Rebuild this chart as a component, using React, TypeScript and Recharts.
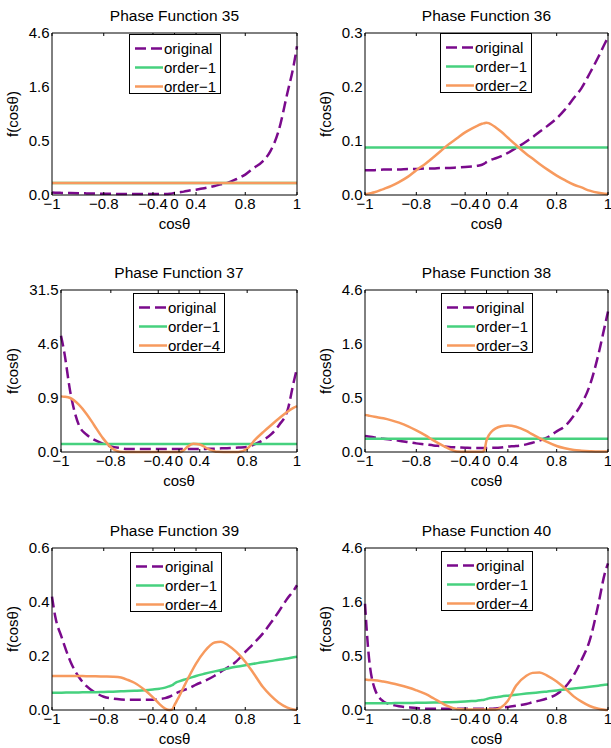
import React from 'react';
import { LineChart, Line, XAxis, YAxis, Legend } from 'recharts';

// cosθ sample points shared by all six panels
const cosGrid = [
  -1, -0.99, -0.97, -0.94, -0.91, -0.88, -0.84, -0.8, -0.75, -0.7, -0.65, -0.6, -0.5,
  -0.4, -0.3, -0.2, -0.1, -0.05, 0, 0.05, 0.1, 0.2, 0.3, 0.4, 0.5, 0.6, 0.65, 0.7,
  0.75, 0.8, 0.84, 0.88, 0.91, 0.94, 0.97, 0.99, 1,
];

const xTickValues = [-1, -0.8, -0.4, 0, 0.4, 0.8, 1];
const yTicksLog = [0, 0.5, 1.6, 4.6];
const yTicks36 = [0, 0.1, 0.2, 0.3];
const yTicks37 = [0, 0.9, 4.6, 31.5];
const yTicks39 = [0, 0.2, 0.4, 0.6];

const titles = [
  'Phase Function 35', 'Phase Function 36', 'Phase Function 37',
  'Phase Function 38', 'Phase Function 39', 'Phase Function 40',
];
const legendNames = [
  ['original', 'order\u22121', 'order\u22121'],
  ['original', 'order\u22121', 'order\u22122'],
  ['original', 'order\u22121', 'order\u22124'],
  ['original', 'order\u22121', 'order\u22123'],
  ['original', 'order\u22121', 'order\u22124'],
  ['original', 'order\u22121', 'order\u22124'],
];

// ---- panel 35
const orig35 = [0.015, 0.014, 0.013, 0.012, 0.011, 0.01, 0.009, 0.008, 0.007, 0.006, 0.006, 0.006, 0.006, 0.006, 0.006, 0.006, 0.008, 0.01, 0.013, 0.015, 0.017, 0.021, 0.028, 0.034, 0.043, 0.059, 0.071, 0.083, 0.108, 0.145, 0.2, 0.265, 0.372, 0.64, 1.43, 2.5, 3.6];
const order1_35 = [0.08, 0.08, 0.08, 0.08, 0.08, 0.08, 0.08, 0.08, 0.08, 0.08, 0.08, 0.08, 0.08, 0.08, 0.08, 0.08, 0.08, 0.08, 0.08, 0.08, 0.08, 0.08, 0.08, 0.08, 0.08, 0.08, 0.08, 0.08, 0.08, 0.08, 0.08, 0.08, 0.08, 0.08, 0.08, 0.08, 0.08];
const orderN_35 = [0.08, 0.08, 0.08, 0.08, 0.08, 0.08, 0.08, 0.08, 0.08, 0.08, 0.08, 0.08, 0.08, 0.08, 0.08, 0.08, 0.08, 0.08, 0.08, 0.08, 0.08, 0.08, 0.08, 0.08, 0.08, 0.08, 0.08, 0.08, 0.08, 0.08, 0.08, 0.08, 0.08, 0.08, 0.08, 0.08, 0.08];

// ---- panel 36
const orig36 = [0.046, 0.046, 0.046, 0.047, 0.047, 0.047, 0.048, 0.048, 0.049, 0.049, 0.05, 0.05, 0.051, 0.052, 0.053, 0.054, 0.056, 0.058, 0.061, 0.063, 0.065, 0.068, 0.072, 0.078, 0.087, 0.099, 0.107, 0.117, 0.128, 0.142, 0.158, 0.18, 0.198, 0.225, 0.256, 0.28, 0.292];
const order1_36 = [0.088, 0.088, 0.088, 0.088, 0.088, 0.088, 0.088, 0.088, 0.088, 0.088, 0.088, 0.088, 0.088, 0.088, 0.088, 0.088, 0.088, 0.088, 0.088, 0.088, 0.088, 0.088, 0.088, 0.088, 0.088, 0.088, 0.088, 0.088, 0.088, 0.088, 0.088, 0.088, 0.088, 0.088, 0.088, 0.088, 0.088];
const orderN_36 = [0.001, 0.0025, 0.005, 0.011, 0.017, 0.024, 0.034, 0.046, 0.058, 0.07, 0.081, 0.091, 0.105, 0.116, 0.123, 0.128, 0.132, 0.133, 0.134, 0.133, 0.131, 0.125, 0.117, 0.106, 0.0925, 0.076, 0.0675, 0.0575, 0.047, 0.036, 0.0275, 0.019, 0.014, 0.008, 0.004, 0.0025, 0.002];

// ---- panel 37
const orig37 = [6.2, 3.7, 1.1, 0.27, 0.145, 0.095, 0.06, 0.039, 0.027, 0.02, 0.02, 0.02, 0.02, 0.02, 0.02, 0.02, 0.02, 0.02, 0.02, 0.02, 0.02, 0.02, 0.02, 0.02, 0.021, 0.023, 0.025, 0.027, 0.03, 0.034, 0.057, 0.095, 0.152, 0.27, 0.56, 1.53, 2.28];
const order1_37 = [0.057, 0.057, 0.057, 0.057, 0.057, 0.057, 0.057, 0.057, 0.057, 0.057, 0.057, 0.057, 0.057, 0.057, 0.057, 0.057, 0.057, 0.057, 0.057, 0.057, 0.057, 0.057, 0.057, 0.057, 0.057, 0.057, 0.057, 0.057, 0.057, 0.057, 0.057, 0.057, 0.057, 0.057, 0.057, 0.057, 0.057];
const orderN_37 = [0.95, 0.94, 0.9, 0.69, 0.46, 0.27, 0.11, 0.032, 0.002, 0, 0, 0, 0, 0, 0, 0, 0, 0, 0, 0.002, 0.01, 0.039, 0.06, 0.054, 0.022, 0.001, 0, 0, 0, 0.022, 0.095, 0.184, 0.27, 0.38, 0.52, 0.61, 0.65];

// ---- panel 38
const orig38 = [0.11, 0.106, 0.099, 0.089, 0.082, 0.075, 0.065, 0.056, 0.049, 0.042, 0.038, 0.034, 0.029, 0.027, 0.025, 0.025, 0.025, 0.025, 0.025, 0.026, 0.027, 0.027, 0.029, 0.034, 0.038, 0.049, 0.06, 0.077, 0.1, 0.147, 0.19, 0.294, 0.425, 0.68, 1.32, 2.31, 3.07];
const order1_38 = [0.089, 0.089, 0.089, 0.089, 0.089, 0.089, 0.089, 0.089, 0.089, 0.089, 0.089, 0.089, 0.089, 0.089, 0.089, 0.089, 0.089, 0.089, 0.089, 0.089, 0.089, 0.089, 0.089, 0.089, 0.089, 0.089, 0.089, 0.089, 0.089, 0.089, 0.089, 0.089, 0.089, 0.089, 0.089, 0.089, 0.089];
const orderN_38 = [0.3, 0.293, 0.28, 0.265, 0.245, 0.223, 0.19, 0.155, 0.115, 0.077, 0.049, 0.027, 0.003, 0.001, 0.001, 0.001, 0.001, 0.01, 0.077, 0.115, 0.14, 0.172, 0.19, 0.198, 0.186, 0.15, 0.122, 0.094, 0.065, 0.038, 0.023, 0.012, 0.008, 0.005, 0.003, 0.003, 0.003];

// ---- panel 39
const orig39 = [0.42, 0.345, 0.27, 0.179, 0.123, 0.089, 0.064, 0.049, 0.042, 0.039, 0.038, 0.038, 0.038, 0.038, 0.041, 0.044, 0.05, 0.054, 0.059, 0.063, 0.067, 0.074, 0.081, 0.094, 0.107, 0.127, 0.142, 0.158, 0.179, 0.215, 0.246, 0.283, 0.32, 0.363, 0.413, 0.443, 0.462];
const order1_39 = [0.064, 0.064, 0.064, 0.065, 0.065, 0.066, 0.066, 0.067, 0.068, 0.069, 0.07, 0.071, 0.073, 0.076, 0.079, 0.083, 0.089, 0.092, 0.098, 0.103, 0.106, 0.112, 0.118, 0.126, 0.134, 0.143, 0.148, 0.154, 0.16, 0.166, 0.171, 0.177, 0.181, 0.186, 0.191, 0.195, 0.197];
const orderN_39 = [0.126, 0.126, 0.126, 0.126, 0.126, 0.125, 0.125, 0.124, 0.123, 0.12, 0.111, 0.101, 0.074, 0.047, 0.022, 0.005, 0, 0.002, 0.018, 0.034, 0.049, 0.086, 0.127, 0.172, 0.216, 0.25, 0.253, 0.24, 0.216, 0.179, 0.136, 0.086, 0.055, 0.028, 0.009, 0.002, 0];

// ---- panel 40
const orig40 = [1.55, 0.58, 0.156, 0.056, 0.034, 0.023, 0.017, 0.012, 0.008, 0.008, 0.008, 0.008, 0.008, 0.008, 0.008, 0.008, 0.008, 0.008, 0.008, 0.008, 0.008, 0.01, 0.014, 0.019, 0.027, 0.038, 0.05, 0.061, 0.078, 0.108, 0.164, 0.28, 0.448, 0.73, 1.55, 2.84, 3.45];
const order1_40 = [0.043, 0.043, 0.043, 0.044, 0.044, 0.045, 0.045, 0.046, 0.047, 0.048, 0.049, 0.05, 0.052, 0.055, 0.058, 0.061, 0.065, 0.068, 0.072, 0.077, 0.08, 0.085, 0.091, 0.097, 0.104, 0.113, 0.118, 0.123, 0.13, 0.138, 0.145, 0.154, 0.161, 0.169, 0.178, 0.185, 0.188];
const orderN_40 = [0.235, 0.23, 0.228, 0.215, 0.2, 0.184, 0.162, 0.139, 0.11, 0.078, 0.05, 0.027, 0.006, 0.003, 0.003, 0.003, 0.003, 0.003, 0.003, 0.003, 0.003, 0.003, 0.017, 0.061, 0.177, 0.27, 0.3, 0.305, 0.27, 0.215, 0.156, 0.09, 0.054, 0.025, 0.008, 0.002, 0];

const PURPLE = '#7a0a8c';
const GREEN = '#46d17e';
const ORANGE = '#f79a5e';
const FONT = '"Liberation Sans", Arial, Helvetica, sans-serif';

// the horizontal axis is stretched towards ±1
const K = 2.7;
const warpX = (c: number) => Math.sinh(K * c) / Math.sinh(K);

// the vertical axis: ticks evenly spaced, log-like in between (k = 0 means linear)
const warpY = (v: number, ticks: number[], k: number) => {
  const g = (t: number) => (k > 0 ? Math.log(1 + t / k) : t);
  for (let i = 0; i < ticks.length - 1; i++) {
    if (v <= ticks[i + 1] || i === ticks.length - 2) {
      return i + (g(v) - g(ticks[i])) / (g(ticks[i + 1]) - g(ticks[i]));
    }
  }
  return 0;
};

const panels = [
  { title: titles[0], names: legendNames[0], left: 0, top: 0, width: 305, yw: 52, right: 8, ticks: yTicksLog, k: 0.42, orig: orig35, o1: order1_35, on: orderN_35, lg: [77, 1] },
  { title: titles[1], names: legendNames[1], left: 313, top: 0, width: 298, yw: 52, right: 3, ticks: yTicks36, k: 0, orig: orig36, o1: order1_36, on: orderN_36, lg: [75, 0] },
  { title: titles[2], names: legendNames[2], left: 0, top: 257, width: 305, yw: 61, right: 8, ticks: yTicks37, k: 0.2, orig: orig37, o1: order1_37, on: orderN_37, lg: [72, 3] },
  { title: titles[3], names: legendNames[3], left: 313, top: 257, width: 298, yw: 52, right: 3, ticks: yTicksLog, k: 0.42, orig: orig38, o1: order1_38, on: orderN_38, lg: [76, 3] },
  { title: titles[4], names: legendNames[4], left: 0, top: 515, width: 305, yw: 52, right: 8, ticks: yTicks39, k: 0, orig: orig39, o1: order1_39, on: orderN_39, lg: [78, 4] },
  { title: titles[5], names: legendNames[5], left: 313, top: 515, width: 298, yw: 52, right: 3, ticks: yTicksLog, k: 0.42, orig: orig40, o1: order1_40, on: orderN_40, lg: [76, 3] },
];

const YLabel = (props: any) => {
  const vb = props.viewBox || {};
  const cx = (vb.x ?? 0) + 12.5;
  const cy = (vb.y ?? 33) + (vb.height ?? 162) / 2;
  return (
    <text x={cx} y={cy} transform={`rotate(-90 ${cx} ${cy})`} textAnchor="middle" dominantBaseline="central" fontSize={15} fill="#000">
      f(cosθ)
    </text>
  );
};

const makeTitle = (title: string) => (props: any) => {
  const vb = props.viewBox || {};
  const cx = (vb.x ?? 52) + (vb.width ?? 245) / 2;
  const y = (vb.y ?? 33) - 12.4;
  return (
    <text x={cx} y={y} textAnchor="middle" fontSize={15.5} fill="#000">
      {title}
    </text>
  );
};

function LegendBox({ names }: { names: string[] }) {
  const colors = [PURPLE, GREEN, ORANGE];
  return (
    <div style={{ width: 92, height: 60, boxSizing: 'border-box', border: '1px solid #000', background: '#fff', paddingTop: 4, fontFamily: FONT }}>
      {names.map((n, i) => (
        <div key={i} style={{ display: 'flex', alignItems: 'center', height: 19 }}>
          <svg width={34} height={19} style={{ flex: 'none' }}>
            <line x1={5} x2={33} y1={9.5} y2={9.5} stroke={colors[i]} strokeWidth={2.5} strokeDasharray={i === 0 ? '11 5' : undefined} />
          </svg>
          <span style={{ fontSize: 15, lineHeight: '19px', color: '#000', whiteSpace: 'nowrap' }}>{n}</span>
        </div>
      ))}
    </div>
  );
}

function Panel({ p }: { p: (typeof panels)[number] }) {
  const rows = cosGrid.map((c, i) => ({
    x: warpX(c),
    orig: warpY(p.orig[i], p.ticks, p.k),
    o1: warpY(p.o1[i], p.ticks, p.k),
    on: warpY(p.on[i], p.ticks, p.k),
  }));
  const xTicks = xTickValues.map(warpX);
  const fmtX = (v: number) => {
    const i = xTicks.findIndex((t) => Math.abs(t - v) < 1e-6);
    const n = xTickValues[i < 0 ? 0 : i];
    return n < 0 ? '\u2212' + String(-n) : String(n);
  };
  const fmtY = (v: number) => p.ticks[Math.round(v)].toFixed(1);
  const yTickPos = [0, 1, 2, 3];
  const blank = () => '';

  return (
    <div style={{ position: 'absolute', left: p.left, top: p.top }}>
      <LineChart width={p.width} height={230} data={rows} margin={{ top: 33, right: p.right, bottom: 0, left: 0 }}>
        {/* frame with inward ticks */}
        <XAxis xAxisId="top" orientation="top" mirror type="number" dataKey="x" domain={[-1, 1]} ticks={xTicks} interval={0} height={1} stroke="#000" tickSize={3} tickFormatter={blank}
          label={makeTitle(p.title)} />
        <XAxis xAxisId="inner" orientation="bottom" mirror type="number" dataKey="x" domain={[-1, 1]} ticks={xTicks} interval={0} height={1} axisLine={false} stroke="#000" tickSize={3} tickFormatter={blank} />
        <YAxis yAxisId="inner" orientation="left" mirror type="number" domain={[0, 3]} ticks={yTickPos} interval={0} width={1} axisLine={false} stroke="#000" tickSize={3} tickFormatter={blank} />
        <YAxis yAxisId="right" orientation="right" mirror type="number" domain={[0, 3]} ticks={yTickPos} interval={0} width={1} stroke="#000" tickSize={3} tickFormatter={blank} />
        {/* labelled axes */}
        <XAxis xAxisId={0} type="number" dataKey="x" domain={[-1, 1]} ticks={xTicks} interval={0} height={35} stroke="#000" tickLine={false} tickSize={0} tickMargin={3}
          tickFormatter={fmtX} tick={{ fill: '#000', fontSize: 15 }}
          label={{ value: 'cosθ', position: 'insideBottom', offset: 1.5, fill: '#000', fontSize: 15 }} />
        <YAxis yAxisId={0} type="number" domain={[0, 3]} ticks={yTickPos} interval={0} width={p.yw} stroke="#000" tickLine={false} tickSize={0} tickMargin={2.5}
          tickFormatter={fmtY} tick={{ fill: '#000', fontSize: 15 }} label={YLabel} />
        <Legend layout="horizontal" verticalAlign="middle" align="center"
          wrapperStyle={{ left: p.yw + p.lg[0], top: 33 + p.lg[1], width: 92, height: 60 }}
          content={() => <LegendBox names={p.names} />} />
        <Line type="monotone" dataKey="orig" name={p.names[0]} stroke={PURPLE} strokeWidth={2.5} strokeDasharray="11 5" dot={false} activeDot={false} isAnimationActive={false} />
        <Line type="monotone" dataKey="o1" name={p.names[1]} stroke={GREEN} strokeWidth={2.5} dot={false} activeDot={false} isAnimationActive={false} />
        <Line type="monotone" dataKey="on" name={p.names[2]} stroke={ORANGE} strokeWidth={2.5} dot={false} activeDot={false} isAnimationActive={false} />
      </LineChart>
    </div>
  );
}

export default function App() {
  return (
    <div style={{ position: 'absolute', left: 0, top: 0, width: 611, height: 748, background: '#fff', overflow: 'hidden', fontFamily: FONT }}>
      {panels.map((p) => (
        <Panel key={p.title} p={p} />
      ))}
    </div>
  );
}
